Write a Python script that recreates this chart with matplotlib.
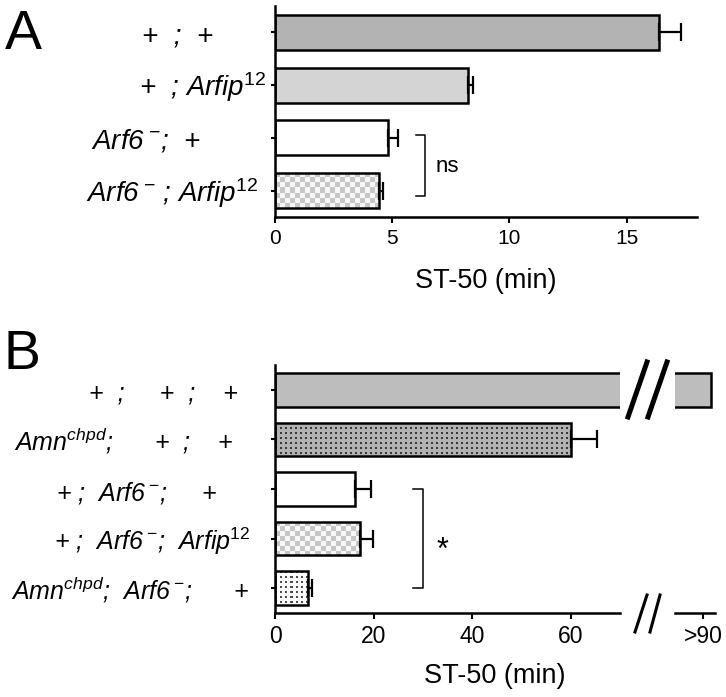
import numpy as np
import matplotlib
matplotlib.use('Agg')
import matplotlib.pyplot as plt
import matplotlib.transforms as mtransforms
from matplotlib.lines import Line2D

plt.rcParams['font.family'] = 'Liberation Sans'
plt.rcParams['mathtext.fontset'] = 'custom'
plt.rcParams['mathtext.it'] = 'Liberation Sans:italic'
plt.rcParams['mathtext.rm'] = 'Liberation Sans'
plt.rcParams['mathtext.default'] = 'it'

# texte en italique, exposants en mathtext
ARF6 = r'Arf6$^{\;\mathrm{-}}$'
ARFIP = r'Arfip$^{\mathrm{12}}$'
AMN = r'Amn$^{chpd}$'

# ---- donnees panneau A ----
labels_a = ['+  ;  +',
            '+  ; ' + ARFIP,
            ARF6 + ';  +',
            ARF6 + ' ; ' + ARFIP]
values_a = [16.4, 8.25, 4.8, 4.43]
errors_a = [0.9, 0.2, 0.45, 0.17]
styles_a = ['#b3b3b3', '#d4d4d4', 'white', 'checker']
ticks_a = [0, 5, 10, 15]

# ---- donnees panneau B ----
labels_b = ['+  ;     +  ;    +',
            AMN + ';      +  ;    +',
            '+ ;  ' + ARF6 + ';     +',
            '+ ;  ' + ARF6 + ';  ' + ARFIP,
            AMN + ';  ' + ARF6 + ';      +']
values_b = [90.8, 60.1, 16.2, 17.3, 6.7]   # le premier: >90
errors_b = [0, 5.3, 3.3, 2.6, 0.8]
styles_b = ['#bdbdbd', 'dots_grey', 'white', 'checker', 'dots_white']
ticks_b = [0, 20, 40, 60]

W, H = 726, 697
fig = plt.figure(figsize=(W / 100, H / 100), dpi=100)


def px_axes(x0, y0, x1, y1):
    # rectangle en pixels (haut-gauche origine) -> fig.add_axes
    return fig.add_axes([x0 / W, 1 - y1 / H, (x1 - x0) / W, (y1 - y0) / H])


def style_axes(ax, fs):
    for s in ['top', 'right']:
        ax.spines[s].set_visible(False)
    for s in ['left', 'bottom']:
        ax.spines[s].set_linewidth(1.8)
    ax.tick_params(axis='x', direction='out', length=4, width=1.5,
                   labelsize=fs, pad=4.5)
    ax.tick_params(axis='y', direction='out', length=3, width=1.5,
                   labelleft=False)


def texture(ax, bar, kind):
    x0, y0 = bar.get_x(), bar.get_y()
    x1, y1 = x0 + bar.get_width(), y0 + bar.get_height()
    p = ax.transData.transform([[x0, y0], [x1, y1]])
    w = int(round(abs(p[1, 0] - p[0, 0])))
    h = int(round(abs(p[1, 1] - p[0, 1])))
    jj, ii = np.meshgrid(np.arange(w), np.arange(h))
    if kind == 'checker':
        m = ((ii // 5 + jj // 5) % 2) == 0
        img = np.where(m[..., None], [0.78, 0.78, 0.78], [0.97, 0.97, 0.97])
    elif kind == 'dots_grey':
        m = ((ii % 5) < 2) & ((jj % 5) < 2)
        img = np.where(m[..., None], [0.22, 0.22, 0.22], [0.7, 0.7, 0.7])
    else:
        m = ((ii % 5) < 2) & ((jj % 5) < 2)
        img = np.where(m[..., None], [0.3, 0.3, 0.3], [0.99, 0.99, 0.99])
    im = ax.imshow(img, extent=(x0, x1, y1, y0), aspect='auto',
                   interpolation='nearest', zorder=2)
    im.set_clip_path(bar)


def draw_bars(ax, pos, vals, errs, styles, height, xlim, ylim):
    ax.set_xlim(*xlim)
    ax.set_ylim(*ylim)
    faces = [s if s.startswith('#') or s == 'white' else 'white' for s in styles]
    bars = ax.barh(pos, vals, height=height, color=faces, edgecolor='none', zorder=1)
    for b, s in zip(bars, styles):
        if not (s.startswith('#') or s == 'white'):
            texture(ax, b, s)
    ax.barh(pos, vals, height=height, fill=False, edgecolor='black',
            linewidth=1.8, zorder=3)
    e = np.array(errs)
    keep = e > 0
    ax.errorbar(np.array(vals)[keep], np.array(pos)[keep],
                xerr=[np.zeros(keep.sum()), e[keep]], fmt='none',
                ecolor='black', elinewidth=1.6, capsize=6.5, capthick=1.6,
                zorder=2.5)
    ax.set_xlim(*xlim)
    ax.set_ylim(*ylim)


def genotype_labels(ax, labels, lefts, fs, ax_left, ax_width):
    base = ax.get_yaxis_transform()
    tr = mtransforms.offset_copy(base, fig=fig, y=-11, units='dots')
    for i, (lab, lx) in enumerate(zip(labels, lefts)):
        ax.text((lx - ax_left) / ax_width, i, lab, transform=tr,
                ha='left', va='baseline', fontsize=fs, fontstyle='italic',
                clip_on=False)


# ================= Panneau A =================
axA = px_axes(275, 6, 697, 217)
pos_a = np.arange(len(values_a))
draw_bars(axA, pos_a, values_a, errors_a, styles_a, 0.667, (0, 18), (3.5, -0.5))
style_axes(axA, 15)
axA.set_xticks(ticks_a)
axA.set_yticks(pos_a)
axA.set_xlabel('ST-50 (min)', fontsize=19.5)
axA.xaxis.set_label_coords(0.5, -0.242)
genotype_labels(axA, labels_a, [142, 139, 91, 86], 20, 275, 422)

# crochet ns
axA.plot([6.0, 6.4, 6.4, 6.0], [1.95, 1.95, 3.1, 3.1], color='black', lw=1.1,
         clip_on=False)
axA.text(6.85, 2.55, 'ns', fontsize=16, va='center', ha='left')

# ================= Panneau B =================
axB = px_axes(275, 365, 620, 613)
pos_b = np.arange(len(values_b))
draw_bars(axB, pos_b, values_b, errors_b, styles_b, 0.68, (0, 70), (4.5, -0.5))
style_axes(axB, 16.5)
axB.set_xticks(ticks_b)
axB.set_yticks(pos_b)
axB.set_xlabel('ST-50 (min)', fontsize=19.5)
axB.xaxis.set_label_coords(0.638, -0.202)
genotype_labels(axB, labels_b, [89, 14, 56, 54, 11], 18, 275, 345)

axB.plot([28.0, 30.0, 30.0, 28.0], [2.0, 2.0, 4.0, 4.0], color='black', lw=1.1,
         clip_on=False)
axB.text(32.8, 3.25, '*', fontsize=22, va='center', ha='left')

# partie droite apres la coupure
axR = px_axes(675, 365, 715, 613)
axR.barh(pos_b, values_b, height=0.68, color=styles_b[0], edgecolor='black',
         linewidth=1.8, zorder=1)
axR.set_xlim(87.2, 91.2)
axR.set_ylim(4.5, -0.5)
for s in ['top', 'right', 'left']:
    axR.spines[s].set_visible(False)
axR.spines['bottom'].set_linewidth(1.8)
axR.set_yticks([])
axR.set_xticks([90])
axR.set_xticklabels(['>90'])
axR.tick_params(axis='x', direction='out', length=4, width=1.5,
                labelsize=16.5, pad=4.5)

# marques de coupure
for (xa, ya, xb, yb, lw) in [(628, 417, 647, 362, 3.6), (648, 417, 667, 362, 3.6),
                             (635, 632, 647, 595, 2.2), (650, 632, 660, 595, 2.2)]:
    fig.add_artist(Line2D([xa / W, xb / W], [1 - ya / H, 1 - yb / H],
                          color='black', lw=lw, transform=fig.transFigure))

# lettres de panneau
fig.text(5 / W, 1 - 49 / H, 'A', fontsize=40, va='baseline', ha='left')
fig.text(4 / W, 1 - 369 / H, 'B', fontsize=40, va='baseline', ha='left')

plt.savefig('out.png', dpi=100)
